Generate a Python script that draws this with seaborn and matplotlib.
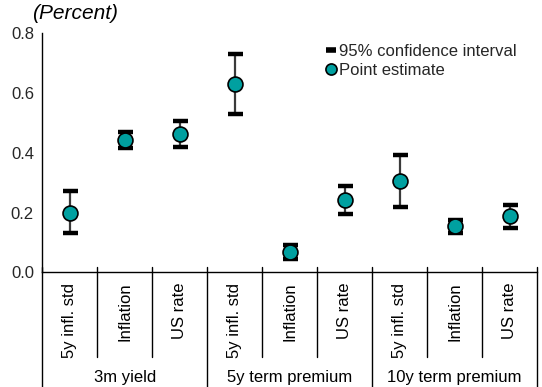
import matplotlib
matplotlib.use("Agg")
import matplotlib.pyplot as plt
from matplotlib.lines import Line2D
import seaborn as sns
import pandas as pd
import numpy as np

# Sensitivities by driver and yield component
groups = ["3m yield", "5y term premium", "10y term premium"]
drivers = ["5y infl. std", "Inflation", "US rate"]
estimate = [0.20, 0.443, 0.462, 0.629, 0.068, 0.243, 0.305, 0.154, 0.187]
ci_low = [0.132, 0.417, 0.419, 0.529, 0.044, 0.196, 0.219, 0.133, 0.148]
ci_high = [0.272, 0.470, 0.506, 0.730, 0.093, 0.290, 0.391, 0.175, 0.225]

sns.set_theme(style="white")
plt.rcParams["font.family"] = ["Liberation Sans", "DejaVu Sans"]

df = pd.DataFrame({
    "group": np.repeat(groups, len(drivers)),
    "driver": drivers * len(groups),
    "estimate": estimate,
    "low": ci_low,
    "high": ci_high,
})
df["pos"] = np.arange(len(df))

teal = "#00A0A0"
fig = plt.figure(figsize=(5.42, 3.87), dpi=100)
ax = fig.add_axes([0.078, 0.2964, 0.913, 0.6176])

# confidence intervals
eb = ax.errorbar(df["pos"], df["estimate"],
                 yerr=[df["estimate"] - df["low"], df["high"] - df["estimate"]],
                 fmt="none", ecolor="#3a3a3a", elinewidth=1.6,
                 capsize=5.4, capthick=3.2, zorder=2)
# the caps are black while the stem is dark grey
for cap in eb.lines[1]:
    cap.set_markeredgecolor("black")
    cap.set_markerfacecolor("black")

sns.scatterplot(data=df, x="pos", y="estimate", ax=ax, s=115,
                color=teal, edgecolor="black", linewidth=1.2, zorder=3,
                legend=False)

ax.set_xlim(-0.5, len(df) - 0.5)
ax.set_ylim(0, 0.8)
ax.set_yticks([0.0, 0.2, 0.4, 0.6, 0.8])
ax.set_yticklabels(["0.0", "0.2", "0.4", "0.6", "0.8"])
ax.set_xticks([])
ax.set_xlabel("")
ax.set_ylabel("")
ax.tick_params(axis="y", which="major", length=0, labelsize=12, pad=6)
ax.set_yticks([0.8], minor=True)
ax.tick_params(axis="y", which="minor", direction="in", length=4,
               width=1, color="black")
for s in ["top", "right"]:
    ax.spines[s].set_visible(False)
for s in ["left", "bottom"]:
    ax.spines[s].set_color("black")
    ax.spines[s].set_linewidth(1.0)

# category table below the axis
trans = ax.get_xaxis_transform()
n = len(df)
for b in np.arange(-0.5, n, 1.0):
    major = (int(round(b + 0.5)) % len(drivers) == 0)
    y_end = -0.52 if major else -0.353
    ax.add_line(Line2D([b, b], [0.023, y_end], transform=trans,
                       color="black", lw=1.0, clip_on=False))
for p, d in zip(df["pos"], df["driver"]):
    ax.text(p, -0.043, d, transform=trans, rotation=90, ha="center",
            va="top", fontsize=12, color="black")
for i, g in enumerate(groups):
    ax.text(i * len(drivers) + (len(drivers) - 1) / 2, -0.442, g,
            transform=trans, ha="center", va="center", fontsize=12,
            color="black")

fig.text(0.059, 0.965, "(Percent)", fontsize=15, style="italic",
         ha="left", va="center", color="black")

handles = [
    Line2D([], [], color="black", lw=4, solid_capstyle="butt"),
    Line2D([], [], ls="none", marker="o", markersize=8,
           markerfacecolor=teal, markeredgecolor="black", markeredgewidth=1.2),
]
ax.legend(handles, ["95% confidence interval", "Point estimate"],
          loc="upper left", bbox_to_anchor=(0.574, 0.955), frameon=False,
          fontsize=12, handlelength=0.6, handletextpad=0.15,
          borderpad=0, borderaxespad=0, labelspacing=0.25)

fig.savefig("out.png", dpi=100)
